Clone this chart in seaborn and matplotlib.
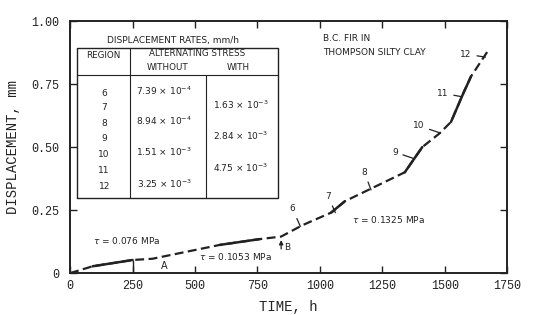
import matplotlib
matplotlib.use("Agg")
import matplotlib.pyplot as plt
import seaborn as sns
import pandas as pd

# creep curve
time_h = [0, 90, 250, 330, 600, 760, 845, 930, 1045, 1100, 1340, 1410, 1480, 1525, 1575, 1605, 1675]
disp_mm = [0.0, 0.027, 0.052, 0.057, 0.112, 0.135, 0.145, 0.19, 0.24, 0.285, 0.40, 0.50, 0.555, 0.60, 0.715, 0.78, 0.885]
# parts of the curve drawn solid (start, end times)
solid_spans = [(90, 250), (600, 760), (1045, 1100), (1340, 1410), (1525, 1605)]

# region labels: number, label position, point on curve
region_ids = ["6", "7", "8", "9", "10", "11", "12"]
region_text_xy = [(891, 0.255), (1033, 0.305), (1178, 0.40), (1300, 0.48), (1395, 0.585), (1492, 0.714), (1585, 0.869)]
region_tip_xy = [(922, 0.185), (1062, 0.24), (1205, 0.33), (1375, 0.455), (1482, 0.556), (1568, 0.70), (1663, 0.857)]

# table of displacement rates
table_regions = ["6", "7", "8", "9", "10", "11", "12"]
rates_without = ["7.39", None, "8.94", None, "1.51", None, "3.25"]
exp_without = ["-4", None, "-4", None, "-3", None, "-3"]
rates_with = [None, "1.63", None, "2.84", None, "4.75", None]
exp_with = [None, "-3", None, "-3", None, "-3", None]

x_ticks = [0, 250, 500, 750, 1000, 1250, 1500, 1750]
y_ticks = [0, 0.25, 0.5, 0.75, 1.0]
y_tick_labels = ["0", "0.25", "0.50", "0.75", "1.00"]

sns.set_style("ticks")
plt.rcParams['font.family'] = ['DejaVu Sans']
ink = "#222222"
mono = "Liberation Mono"

fig, ax = plt.subplots(figsize=(5.35, 3.15), dpi=100)
fig.subplots_adjust(left=0.131, right=0.948, top=0.933, bottom=0.133)

df = pd.DataFrame({"time": time_h, "disp": disp_mm})
sns.lineplot(data=df, x="time", y="disp", sort=False, ax=ax, color=ink, lw=1.6,
             linestyle=(0, (4, 2)))
for t0, t1 in solid_spans:
    seg = df[(df.time >= t0) & (df.time <= t1)]
    sns.lineplot(data=seg, x="time", y="disp", sort=False, ax=ax, color=ink, lw=1.8)

# marker line at A and arrow at B
ax.vlines(250, 0, 0.052, color=ink, lw=1)
ax.text(375, 0.03, "A", fontsize=7, color=ink, ha="center", va="center")
ax.annotate("", xy=(845, 0.142), xytext=(845, 0.085),
            arrowprops=dict(arrowstyle="-|>", lw=0.9, color=ink, mutation_scale=6))
ax.text(870, 0.1, "B", fontsize=6.5, color=ink, ha="center", va="center")

for lab, txy, pxy in zip(region_ids, region_text_xy, region_tip_xy):
    ax.annotate(lab, xy=pxy, xytext=txy, fontsize=6.5, color=ink, ha="center", va="center",
                arrowprops=dict(arrowstyle="-", lw=0.9, color=ink, shrinkA=1.5, shrinkB=0))

ax.text(93, 0.13, r"$\tau$ = 0.076 MPa", fontsize=6.5, color=ink, va="center")
ax.text(516, 0.066, r"$\tau$ = 0.1053 MPa", fontsize=6.5, color=ink, va="center")
ax.text(1129, 0.214, r"$\tau$ = 0.1325 MPa", fontsize=6.5, color=ink, va="center")

ax.text(0.579, 0.929, "B.C. FIR IN", transform=ax.transAxes, fontsize=6.5, color=ink, va="center")
ax.text(0.579, 0.874, "THOMPSON SILTY CLAY", transform=ax.transAxes, fontsize=6.5, color=ink, va="center")

# table drawn in axes coordinates
tr = ax.transAxes
box_l, box_r, box_t, box_b = 0.016, 0.476, 0.893, 0.298
head_y, col1, col2 = 0.786, 0.137, 0.311
ax.plot([box_l, box_r, box_r, box_l, box_l], [box_b, box_b, box_t, box_t, box_b], transform=tr, color=ink, lw=1)
ax.plot([box_l, box_r], [head_y, head_y], transform=tr, color=ink, lw=0.8)
ax.plot([col1, col1], [box_b, box_t], transform=tr, color=ink, lw=0.8)
ax.plot([col2, col2], [box_b, head_y], transform=tr, color=ink, lw=0.8)
ax.text(0.236, 0.925, "DISPLACEMENT RATES, mm/h", transform=tr, fontsize=6.5, color=ink, ha="center", va="center")
ax.text(0.076, 0.865, "REGION", transform=tr, fontsize=6.3, color=ink, ha="center", va="center")
ax.text(0.29, 0.873, "ALTERNATING STRESS", transform=tr, fontsize=6.3, color=ink, ha="center", va="center")
ax.text(0.222, 0.817, "WITHOUT", transform=tr, fontsize=6.3, color=ink, ha="center", va="center")
ax.text(0.385, 0.817, "WITH", transform=tr, fontsize=6.3, color=ink, ha="center", va="center")

row_y = [0.713, 0.658, 0.594, 0.535, 0.472, 0.406, 0.343]
for i, reg in enumerate(table_regions):
    ax.text(0.078, row_y[i], reg, transform=tr, fontsize=6.5, color=ink, ha="center", va="center")
    if rates_without[i]:
        ax.text(0.215, row_y[i] + 0.01, rates_without[i] + r" $\times$ 10$^{" + exp_without[i] + "}$",
                transform=tr, fontsize=6.5, color=ink, ha="center", va="center")
    if rates_with[i]:
        ax.text(0.39, row_y[i] + 0.01, rates_with[i] + r" $\times$ 10$^{" + exp_with[i] + "}$",
                transform=tr, fontsize=6.5, color=ink, ha="center", va="center")

ax.set_xlim(0, 1750)
ax.set_ylim(0, 1.0)
ax.set_xticks(x_ticks)
ax.set_xticklabels([str(t) for t in x_ticks], fontfamily=mono, fontsize=8.5)
ax.set_yticks(y_ticks)
ax.set_yticklabels(y_tick_labels, fontfamily=mono, fontsize=8.5)
ax.tick_params(direction="in", length=5, width=1, top=True, right=True, colors=ink, pad=5)
ax.tick_params(axis="y", pad=8)
for s in ax.spines.values():
    s.set_linewidth(1.4)
    s.set_color(ink)
ax.set_xlabel("TIME, h", fontfamily=mono, fontsize=10, color=ink, labelpad=6)
ax.set_ylabel("DISPLACEMENT, mm", fontfamily=mono, fontsize=10, color=ink, labelpad=8)

plt.savefig("out.png", dpi=100)
